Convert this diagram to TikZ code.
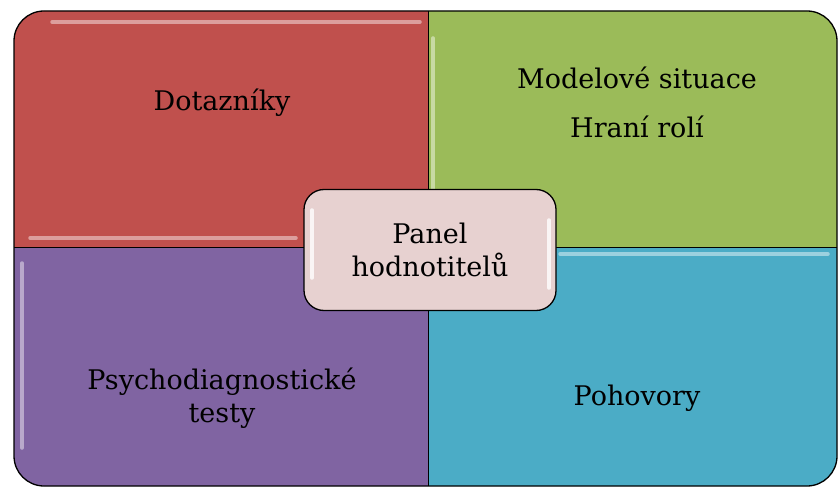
\documentclass[tikz,border=0pt]{standalone}
\usepackage{fontspec}
\setmainfont{DejaVu Serif}

\definecolor{quadred}{HTML}{C0504D}
\definecolor{quadgreen}{HTML}{9BBB59}
\definecolor{quadpurple}{HTML}{8064A2}
\definecolor{quadblue}{HTML}{4BACC6}
\definecolor{panelpink}{HTML}{E7D1D0}

\tikzset{
  quad/.style={draw=black,line width=1.3pt},
  gloss/.style={white,opacity=0.45,line width=3.5pt,line cap=round},
  label/.style={font=\fontsize{27}{33}\selectfont,align=center,text=black}
}

\begin{document}
\begin{tikzpicture}[x=1pt,y=1pt]

\useasboundingbox (0,0) rectangle (838,488) ;

\fill[quadred] (14,240) -- (14,447) arc[start angle=180,end angle=90,radius=30] -- (428,477) -- (428,240) -- cycle ;
\fill[quadgreen] (428,240) -- (428,477) -- (807,477) arc[start angle=90,end angle=0,radius=30] -- (837,240) -- cycle ;
\fill[quadpurple] (14,240) -- (14,32) arc[start angle=180,end angle=270,radius=30] -- (428,2) -- (428,240) -- cycle ;
\fill[quadblue] (428,240) -- (428,2) -- (807,2) arc[start angle=270,end angle=360,radius=30] -- (837,240) -- cycle ;

\draw[gloss] (52,466) -- (420,466) ;
\draw[gloss] (30,250) -- (296,250) ;
\draw[gloss] (433,270) -- (433,450) ;
\draw[gloss] (22,40) -- (22,225) ;
\draw[gloss] (560,234) -- (828,234) ;

\draw[quad] (14,447) arc[start angle=180,end angle=90,radius=30] -- (807,477) arc[start angle=90,end angle=0,radius=30] -- (837,32) arc[start angle=0,end angle=-90,radius=30] -- (44,2) arc[start angle=270,end angle=180,radius=30] -- cycle ;
\draw[black,line width=1pt] (428,477) -- (428,2) ;
\draw[black,line width=1pt] (14,240) -- (837,240) ;

\node[label] (dotazniky) at (222,385) {Dotazníky} ;
\node[label] (modelove) at (637,386) {Modelové situace\\[16pt]Hraní rolí} ;
\node[label] (psycho) at (222,90) {Psychodiagnostické\\testy} ;
\node[label] (pohovory) at (637,90) {Pohovory} ;

\node[label,draw=black,line width=1.3pt,fill=panelpink,rounded corners=20pt,minimum width=252pt,minimum height=121pt] (panel) at (430,238) {Panel\\hodnotitelů} ;

\draw[gloss,opacity=0.8] (312,210) -- (312,278) ;
\draw[gloss,opacity=0.8] (549,200) -- (549,268) ;

\end{tikzpicture}
\end{document}
